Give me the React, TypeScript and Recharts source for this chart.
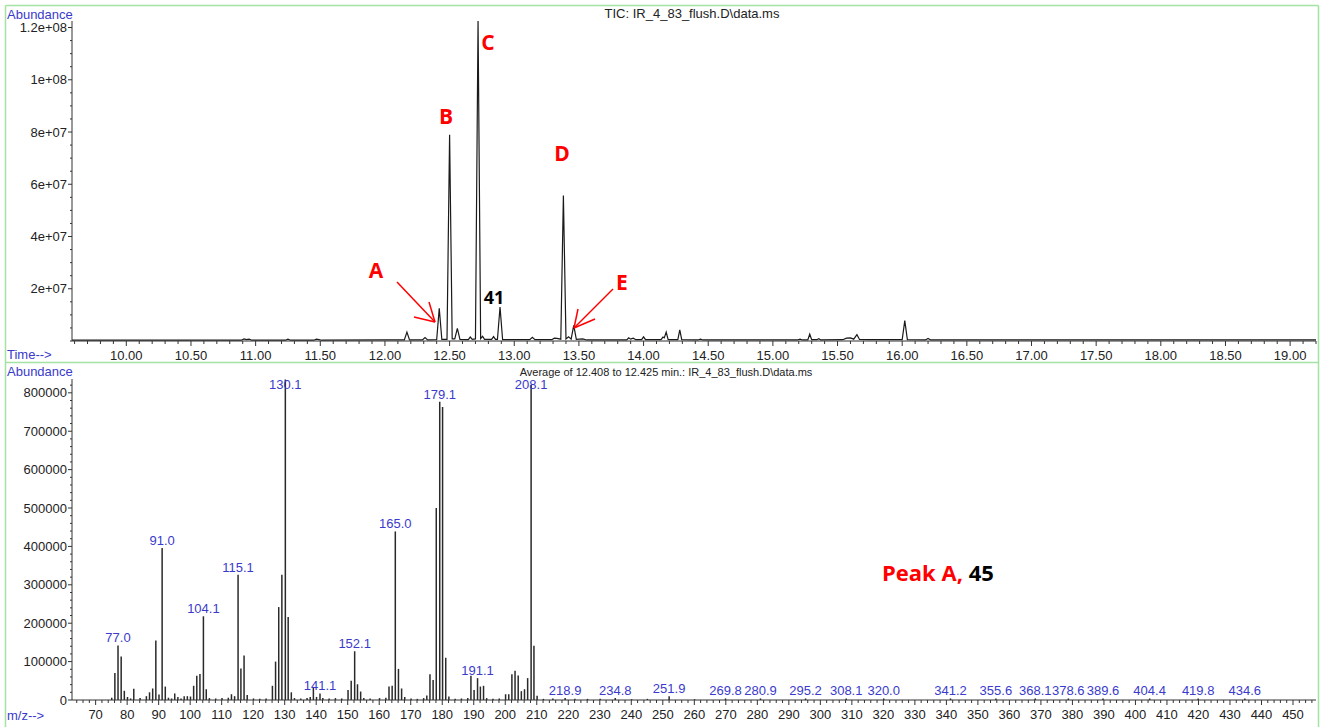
import React from "react";
import { LineChart, Line, BarChart, Bar, XAxis, YAxis, LabelList } from "recharts";

// TIC trace (min, abundance)
const ticTime = [
  9.58, 10.7, 10.89, 10.91, 10.93, 10.95, 10.97, 11.23, 11.25, 11.27, 11.45, 11.47, 11.49, 11.51,
  12.0, 12.15, 12.17, 12.19, 12.29, 12.31, 12.33, 12.4, 12.42, 12.44, 12.48, 12.5, 12.52, 12.54,
  12.56, 12.58, 12.645, 12.66, 12.675, 12.7, 12.72, 12.74, 12.755, 12.77, 12.825, 12.84, 12.855,
  12.87, 12.89, 12.91, 13.12, 13.14, 13.16, 13.29, 13.31, 13.33, 13.36, 13.38, 13.4, 13.42, 13.44,
  13.46, 13.48, 13.53, 13.56, 13.87, 13.885, 13.9, 13.92, 13.94, 13.985, 14.0, 14.015, 14.135,
  14.15, 14.16, 14.175, 14.19, 14.265, 14.28, 14.295, 14.42, 14.44, 14.46, 15.19, 15.21, 15.23,
  15.27, 15.285, 15.3, 15.34, 15.355, 15.37, 15.54, 15.57, 15.6, 15.625, 15.65, 15.67, 15.74,
  16.0, 16.02, 16.04, 16.18, 16.2, 16.22, 16.4, 19.2,
];
const ticAbundance = [
  3e5, 3e5, 3e5, 8e5, 5e5, 7e5, 3e5, 3e5, 7e5, 3e5, 3e5, 7e5, 5e5, 3e5,
  4e5, 4e5, 3.4e6, 4e5, 4e5, 1.3e6, 4e5, 5e5, 1.25e7, 6e5, 6e5, 7.9e7, 8e5, 8e5,
  4.8e6, 6e5, 5e5, 1.5e6, 6e5, 8e5, 1.225e8, 9e5, 1.8e6, 6e5, 6e5, 1.7e6, 6e5,
  6e5, 1.3e7, 5e5, 5e5, 1.4e6, 5e5, 5e5, 1.1e6, 1.0e6, 7e5, 5.57e7, 8e5, 1.6e6, 7e5,
  6e6, 6e5, 8e5, 4e5, 4e5, 1.2e6, 7e5, 1.1e6, 5e5, 5e5, 1.6e6, 5e5, 5e5,
  1.5e6, 1.2e6, 3.4e6, 5e5, 5e5, 4.3e6, 5e5, 4e5, 7e5, 4e5, 4e5, 7e5, 4e5,
  4e5, 2.6e6, 5e5, 5e5, 9e5, 4e5, 5e5, 1.1e6, 1.2e6, 7e5, 2.4e6, 6e5, 5e5,
  5e5, 7.8e6, 5e5, 4e5, 1.0e6, 4e5, 4e5, 4e5,
];

const timeMajor = [10, 10.5, 11, 11.5, 12, 12.5, 13, 13.5, 14, 14.5, 15, 15.5, 16, 16.5, 17, 17.5, 18, 18.5, 19];
const ticYMajor = [2e7, 4e7, 6e7, 8e7, 1e8, 1.2e8];
const ticYLabels = ["2e+07", "4e+07", "6e+07", "8e+07", "1e+08", "1.2e+08"];

// mass spectrum averaged over 12.408-12.425 min
const mzValues = [
  75, 76, 77.0, 78, 79, 80, 81, 82, 84, 86, 87, 88, 89, 90, 91.0, 92, 93, 94, 95, 96, 97, 98, 99,
  100, 101, 102, 103, 104.1, 105, 106, 108, 110, 112, 113, 114, 115.1, 116, 117, 118, 120, 122,
  124, 126, 127, 128, 129, 130.1, 131, 132, 133, 135, 137, 138, 139, 140, 141.1, 142, 144, 146,
  148, 150, 151, 152.1, 153, 154, 155, 157, 160, 162, 163, 164, 165.0, 166, 167, 168, 170, 172,
  174, 175, 176, 177, 178, 179.1, 180, 181, 182, 184, 186, 188, 189, 190, 191.1, 192, 193, 194,
  196, 198, 200, 201, 202, 203, 204, 205, 206, 207, 208.1, 209, 210, 212, 215, 218.9, 222, 226,
  230, 234.8, 240, 245, 251.9, 260, 269.8, 280.9, 295.2, 308.1, 320.0, 341.2, 355.6, 368.1,
  378.6, 389.6, 404.4, 419.8, 434.6,
];
const mzAbundance = [
  6000, 70000, 142000, 113000, 24000, 8000, 4000, 29000, 5000, 10000, 20000, 30000, 155000, 14000,
  396000, 35000, 6000, 4000, 17000, 8000, 4000, 10000, 10000,
  9000, 37000, 63000, 68000, 218000, 28000, 5000, 4000, 5000, 6000, 15000, 10000, 326000, 82000,
  116000, 13000, 4000, 3000,
  4000, 37000, 100000, 242000, 326000, 835000, 216000, 20000, 5000, 4000, 5000, 8000, 33000, 8000,
  17000, 5000, 4000, 5000,
  4000, 26000, 50000, 127000, 41000, 22000, 5000, 4000, 5000, 6000, 35000, 37000, 439000, 81000,
  30000, 8000, 4000, 3000,
  5000, 12000, 67000, 52000, 500000, 777000, 763000, 110000, 9000, 3000, 4000, 5000, 63000, 26000,
  57000, 35000, 37000, 5000,
  3000, 4000, 15000, 15000, 67000, 76000, 64000, 23000, 28000, 57000, 821000, 141000, 11000, 3000,
  4000, 5000, 3000, 3000,
  3000, 5000, 2000, 3000, 10000, 2000, 4000, 4000, 4000, 4000, 4000, 4000, 4000, 4000,
  4000, 4000, 4000, 4000, 4000,
];
const mzLabelled = [
  "77.0", "91.0", "104.1", "115.1", "130.1", "141.1", "152.1", "165.0", "179.1", "191.1", "208.1",
  "218.9", "234.8", "251.9", "269.8", "280.9", "295.2", "308.1", "320.0", "341.2", "355.6",
  "368.1", "378.6", "389.6", "404.4", "419.8", "434.6",
];

const mzMajor = [70, 80, 90, 100, 110, 120, 130, 140, 150, 160, 170, 180, 190, 200, 210, 220, 230, 240, 250, 260, 270, 280, 290, 300, 310, 320, 330, 340, 350, 360, 370, 380, 390, 400, 410, 420, 430, 440, 450];
const msYMajor = [0, 100000, 200000, 300000, 400000, 500000, 600000, 700000, 800000];

const ticData = ticTime.map((t, i) => ({ time: t, abundance: ticAbundance[i] }));
const msData = mzValues.map((m, i) => ({
  mz: m,
  abundance: mzAbundance[i],
  label: mzLabelled.includes(m.toFixed(1)) ? m.toFixed(1) : "",
}));

const steps = (from: number, to: number, step: number) => {
  const out: number[] = [];
  for (let v = from; v <= to + step / 1000; v += step) out.push(Math.round(v * 1000) / 1000);
  return out;
};

const FONT = "'Liberation Sans', Arial, sans-serif";
const AXIS = "#333";
const BLUE = "#3a3acc";
const GREEN = "#a3e4a3";

const isMajor = (v: number, majors: number[]) => majors.some((m) => Math.abs(m - v) < 1e-6);

const XTick = (props: any) => {
  const { x, y, payload, majors, fmt } = props;
  const major = isMajor(payload.value, majors);
  return (
    <g>
      <line x1={x} x2={x} y1={y} y2={y + (major ? 5 : 3)} stroke={AXIS} />
      {major && (
        <text x={x} y={y + 18.5} textAnchor="middle" fontSize={13} fontFamily={FONT} fill="#222">
          {fmt(payload.value)}
        </text>
      )}
    </g>
  );
};

const YTick = (props: any) => {
  const { x, y, payload, majors, labels } = props;
  const idx = majors.findIndex((m: number) => Math.abs(m - payload.value) < 1e-6);
  return (
    <g>
      <line x1={x - (idx >= 0 ? 4 : 2)} x2={x} y1={y} y2={y} stroke={AXIS} />
      {idx >= 0 && (
        <text x={x - 5} y={y} dy="0.35em" textAnchor="end" fontSize={13} fontFamily={FONT} fill="#222">
          {labels[idx]}
        </text>
      )}
    </g>
  );
};

const PeakLabel = (props: any) => {
  const { x, y, width, value } = props;
  if (!value) return null;
  const baseline = Math.max(Number(y) - 3, 27);
  return (
    <text x={Number(x) + Number(width) / 2} y={baseline} textAnchor="middle" fontSize={13} fontFamily={FONT} fill={BLUE}>
      {value}
    </text>
  );
};

const letter = { fontFamily: "'Open Sans', sans-serif", fontWeight: 700, fontSize: 21, fill: "#ff0000" } as const;

export default function App() {
  return (
    <div style={{ position: "absolute", left: 0, top: 0, width: 1320, height: 727, background: "#fff", overflow: "hidden" }}>
      <div style={{ position: "absolute", left: 0, top: 0 }}>
        <LineChart width={1320} height={362} data={ticData} margin={{ top: 21, right: 4, left: 0, bottom: 0 }}>
          <XAxis
            dataKey="time"
            type="number"
            domain={[9.58, 19.2]}
            allowDataOverflow
            ticks={steps(9.6, 19.2, 0.1)}
            interval={0}
            height={21}
            tickSize={0}
            tickMargin={0}
            stroke={AXIS}
            tick={(p: any) => <XTick {...p} majors={timeMajor} fmt={(v: number) => v.toFixed(2)} />}
          />
          <YAxis
            type="number"
            domain={[0, 1.225e8]}
            allowDataOverflow
            ticks={steps(0, 1.2e8, 5e6)}
            interval={0}
            width={72}
            tickSize={0}
            tickMargin={0}
            stroke={AXIS}
            tick={(p: any) => <YTick {...p} majors={ticYMajor} labels={ticYLabels} />}
          />
          <Line type="linear" dataKey="abundance" stroke="#1a1a1a" strokeWidth={1.2} dot={false} isAnimationActive={false} />
        </LineChart>
      </div>
      <div style={{ position: "absolute", left: 0, top: 362 }}>
        <BarChart width={1320} height={365} data={msData} margin={{ top: 17, right: 4, left: 0, bottom: 0 }}>
          <XAxis
            dataKey="mz"
            type="number"
            domain={[62.5, 457.3]}
            allowDataOverflow
            ticks={steps(64, 456, 2)}
            interval={0}
            height={27}
            tickSize={0}
            tickMargin={0}
            stroke={AXIS}
            tick={(p: any) => <XTick {...p} majors={mzMajor} fmt={(v: number) => String(v)} />}
          />
          <YAxis
            type="number"
            domain={[0, 836000]}
            allowDataOverflow
            ticks={steps(0, 820000, 20000)}
            interval={0}
            width={72}
            tickSize={0}
            tickMargin={0}
            stroke={AXIS}
            tick={(p: any) => <YTick {...p} majors={msYMajor} labels={msYMajor.map(String)} />}
          />
          <Bar dataKey="abundance" fill="#2a2a2a" barSize={1.5} isAnimationActive={false}>
            <LabelList dataKey="label" content={PeakLabel} />
          </Bar>
        </BarChart>
      </div>
      <svg width={1320} height={727} style={{ position: "absolute", left: 0, top: 0, pointerEvents: "none" }}>
        <line x1={5.5} x2={1318.5} y1={5.5} y2={5.5} stroke={GREEN} strokeWidth={1.5} />
        <line x1={5.5} x2={1318.5} y1={362.5} y2={362.5} stroke={GREEN} strokeWidth={1.5} />
        <line x1={5.5} x2={5.5} y1={5.5} y2={727} stroke={GREEN} strokeWidth={1.5} />
        <line x1={1318.5} x2={1318.5} y1={5.5} y2={727} stroke={GREEN} strokeWidth={1.5} />
        <g fontFamily={FONT} fontSize={13}>
          <text x={7} y={19} fill={BLUE}>Abundance</text>
          <text x={7} y={359} fill={BLUE}>Time--&gt;</text>
          <text x={7} y={376} fill={BLUE}>Abundance</text>
          <text x={7} y={720} fill={BLUE}>m/z--&gt;</text>
          <text x={692} y={18} textAnchor="middle" fill="#222">TIC: IR_4_83_flush.D\data.ms</text>
          <text x={666} y={376} textAnchor="middle" fill="#222" fontSize={11}>
            Average of 12.408 to 12.425 min.: IR_4_83_flush.D\data.ms
          </text>
        </g>
        <g {...letter} textAnchor="middle" dominantBaseline="central">
          <text x={376} y={270}>A</text>
          <text x={446} y={116}>B</text>
          <text x={488} y={42}>C</text>
          <text x={562} y={153}>D</text>
          <text x={622} y={282}>E</text>
          <text x={494} y={297} fill="#000" fontSize={18}>41</text>
        </g>
        <g stroke="#ff0000" strokeWidth={1.5} fill="none">
          <line x1={397} y1={282} x2={435} y2={322} />
          <line x1={414} y1={317} x2={435} y2={322} />
          <line x1={429} y1={302} x2={435} y2={322} />
          <line x1={613} y1={289} x2={574} y2={328} />
          <line x1={595} y1={319} x2={574} y2={328} />
          <line x1={578} y1={309} x2={574} y2={328} />
        </g>
        <text x={882} y={572} dominantBaseline="central" fontFamily="'Open Sans', sans-serif" fontWeight={700} fontSize={22}>
          <tspan fill="#ff0000">Peak A,</tspan>
          <tspan fill="#000"> 45</tspan>
        </text>
      </svg>
    </div>
  );
}
